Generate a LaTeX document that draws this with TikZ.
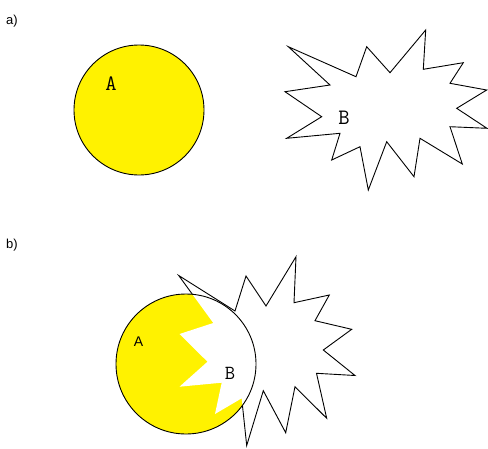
\documentclass[tikz,border=0pt]{standalone}
\usepackage{fontspec}
\setmainfont{Liberation Sans}
\tikzset{
  outline/.style={draw=black, line width=0.9pt, line join=miter},
  partlabel/.style={inner sep=0pt, font=\fontsize{13}{13}\selectfont},
  shapelabel/.style={inner sep=0pt, font=\ttfamily\fontsize{22}{22}\selectfont},
}
\begin{document}
\begin{tikzpicture}[x=1pt,y=-1pt]
\useasboundingbox (0,0) rectangle (488,448);
\fill[white] (0,0) rectangle (488,448);
% ---------- a) ----------
\node[partlabel] (la) at (12,21) {a)};
\draw[outline, fill=yellow] (139,110) circle (65);
\node[shapelabel] (A1) at (111,84) {A};
\draw[outline, fill=white] (288.3,46.7) -- (356,76.7) -- (366.7,46.7) -- (390,72.7) -- (425.7,30) -- (423.3,69.3) -- (463.3,62.7) -- (450,83.3) -- (486.7,90) -- (456.7,108.3) -- (487,128.3) -- (450,126.7) -- (462.3,164) -- (420,138.3) -- (414,176.7) -- (386.7,141.7) -- (368.3,190) -- (360,146.7) -- (331.7,160) -- (340,133.3) -- (286.7,138.3) -- (321.7,116.7) -- (285,91.7) -- (330,85) -- cycle;
\node[shapelabel] (B1) at (344,118) {B};
% ---------- b) ----------
\node[partlabel] (lb) at (12,245) {b)};
\def\starb{(178.7,275.5) -- (235,311) -- (246,276) -- (266,306) -- (296,256.7) -- (294,302.7) -- (329.3,295) -- (315,320.7) -- (351.7,329.3) -- (323.3,350) -- (355,375.5) -- (316.5,373.3) -- (326.7,418.3) -- (295,386.7) -- (285.7,432.7) -- (263.3,390.7) -- (246.7,445.5) -- (241.7,398.3) -- (215,414) -- (221.7,382.7) -- (179.5,386.7) -- (207.5,361.7) -- (179.5,334) -- (213.3,323) -- cycle}
\draw[outline, fill=white] \starb;
\fill[yellow] (186,364) circle (70);
\begin{scope}
  \clip (186,364) circle (70);
  \fill[white] \starb;
\end{scope}
\draw[outline] (186,364) circle (70);
\node[shapelabel, font=\fontsize{14}{14}\selectfont] (A2) at (138.5,342) {A};
\node[shapelabel, font=\ttfamily\fontsize{20}{20}\selectfont] (B2) at (230,373) {B};
\end{tikzpicture}
\end{document}
